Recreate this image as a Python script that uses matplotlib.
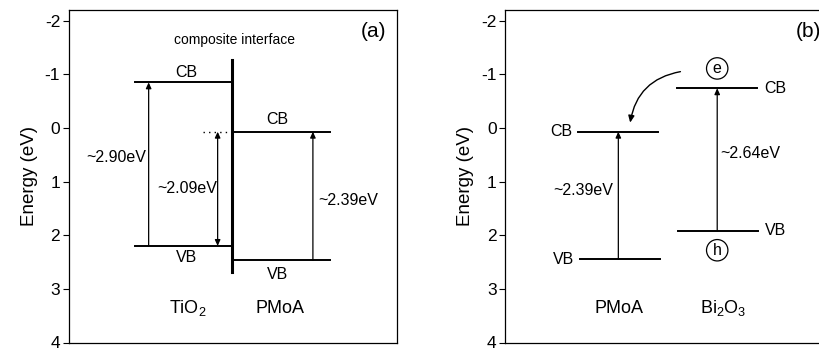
import matplotlib
matplotlib.use("Agg")
from matplotlib import pyplot as plt
from matplotlib.patches import FancyArrowPatch

plt.rcParams['font.family'] = ['Liberation Sans', 'DejaVu Sans']
plt.rcParams['mathtext.fontset'] = 'custom'
plt.rcParams['mathtext.rm'] = 'Liberation Sans'
plt.rcParams['mathtext.it'] = 'Liberation Sans'

# band edges (eV), panel (a)
tio2_cb, tio2_vb = -0.85, 2.20
pmoa_cb_a, pmoa_vb_a = 0.07, 2.47
gap_labels_a = ["~2.90eV", "~2.09eV", "~2.39eV"]

# band edges (eV), panel (b)
pmoa_cb_b, pmoa_vb_b = 0.07, 2.45
bi_cb, bi_vb = -0.74, 1.92
gap_labels_b = ["~2.39eV", "~2.64eV"]

yticks = [-2, -1, 0, 1, 2, 3, 4]

FS = 11.5  # band / gap labels


def style(ax):
    ax.set_ylim(4, -2.19)
    ax.set_xlim(0, 10)
    ax.set_yticks(yticks)
    ax.set_yticklabels([str(t) for t in yticks], fontsize=12.5)
    ax.set_xticks([])
    ax.tick_params(axis='y', direction='out', length=4, width=0.8, pad=2)
    ax.set_ylabel("Energy (eV)", fontsize=13.5, labelpad=5)
    for s in ax.spines.values():
        s.set_linewidth(0.9)


def up_arrow(ax, x, y0, y1, both=False):
    st = '<|-|>' if both else '-|>'
    a = FancyArrowPatch((x, y0), (x, y1), arrowstyle=st + ',head_length=3.5,head_width=1.6',
                        color='black', lw=0.9, shrinkA=0, shrinkB=0)
    ax.add_patch(a)


fig = plt.figure(figsize=(8.2, 3.5), dpi=100)

# ---- panel (a)
ax1 = fig.add_axes([68.5 / 820, 7.5 / 350, 328.5 / 820, 332 / 350])
style(ax1)
ax1.plot([2.01, 4.97], [tio2_cb, tio2_cb], color='black', lw=1.4)
ax1.plot([2.01, 4.97], [tio2_vb, tio2_vb], color='black', lw=1.4)
ax1.plot([4.97, 7.96], [pmoa_cb_a, pmoa_cb_a], color='black', lw=1.4)
ax1.plot([4.97, 7.96], [pmoa_vb_a, pmoa_vb_a], color='black', lw=1.4)
ax1.plot([4.97, 4.97], [-1.26, 2.68], color='black', lw=2.2)
ax1.plot([4.1, 4.9], [pmoa_cb_a, pmoa_cb_a], color='black', lw=1.0, ls=(0, (1, 3)))
up_arrow(ax1, 2.44, tio2_vb, tio2_cb)
up_arrow(ax1, 4.54, tio2_vb, pmoa_cb_a, both=True)
up_arrow(ax1, 7.44, pmoa_vb_a, pmoa_cb_a)

ax1.text(3.6, -1.03, "CB", ha='center', va='center', fontsize=FS)
ax1.text(3.6, 2.42, "VB", ha='center', va='center', fontsize=FS)
ax1.text(6.37, -0.16, "CB", ha='center', va='center', fontsize=FS)
ax1.text(6.37, 2.74, "VB", ha='center', va='center', fontsize=FS)
ax1.text(1.46, 0.56, gap_labels_a[0], ha='center', va='center', fontsize=FS)
ax1.text(3.6, 1.12, gap_labels_a[1], ha='center', va='center', fontsize=FS)
ax1.text(8.5, 1.35, gap_labels_a[2], ha='center', va='center', fontsize=FS)
ax1.text(5.06, -1.64, "composite interface", ha='center', va='center', fontsize=10)
ax1.text(9.27, -1.8, "(a)", ha='center', va='center', fontsize=15)
ax1.text(3.63, 3.36, "TiO$_2$", ha='center', va='center', fontsize=13)
ax1.text(6.43, 3.36, "PMoA", ha='center', va='center', fontsize=13)

# ---- panel (b)
ax2 = fig.add_axes([505 / 820, 7.5 / 350, 328.5 / 820, 332 / 350])
style(ax2)
ax2.plot([2.23, 4.66], [pmoa_cb_b, pmoa_cb_b], color='black', lw=1.4)
ax2.plot([2.29, 4.73], [pmoa_vb_b, pmoa_vb_b], color='black', lw=1.4)
ax2.plot([5.24, 7.68], [bi_cb, bi_cb], color='black', lw=1.4)
ax2.plot([5.27, 7.7], [bi_vb, bi_vb], color='black', lw=1.4)
up_arrow(ax2, 3.45, pmoa_vb_b, pmoa_cb_b)
up_arrow(ax2, 6.46, bi_vb, bi_cb)

curve = FancyArrowPatch((5.34, -1.05), (3.81, -0.1), connectionstyle='arc3,rad=0.35',
                        arrowstyle='-|>,head_length=4,head_width=1.8',
                        color='black', lw=1.0, shrinkA=0, shrinkB=0)
ax2.add_patch(curve)

ax2.text(2.05, pmoa_cb_b, "CB", ha='right', va='center', fontsize=FS)
ax2.text(2.1, pmoa_vb_b, "VB", ha='right', va='center', fontsize=FS)
ax2.text(7.9, bi_cb, "CB", ha='left', va='center', fontsize=FS)
ax2.text(7.9, bi_vb, "VB", ha='left', va='center', fontsize=FS)
ax2.text(2.38, 1.16, gap_labels_b[0], ha='center', va='center', fontsize=FS)
ax2.text(7.47, 0.47, gap_labels_b[1], ha='center', va='center', fontsize=FS)
circ = dict(boxstyle='circle,pad=0.2', fc='white', ec='black', lw=0.9)
ax2.text(6.46, -1.11, "e", ha='center', va='center', fontsize=11.5, bbox=circ)
ax2.text(6.46, 2.28, "h", ha='center', va='center', fontsize=11.5, bbox=circ)
ax2.text(9.24, -1.8, "(b)", ha='center', va='center', fontsize=15)
ax2.text(3.48, 3.36, "PMoA", ha='center', va='center', fontsize=13)
ax2.text(6.65, 3.36, "Bi$_2$O$_3$", ha='center', va='center', fontsize=13)

fig.savefig("out.png", dpi=100)
